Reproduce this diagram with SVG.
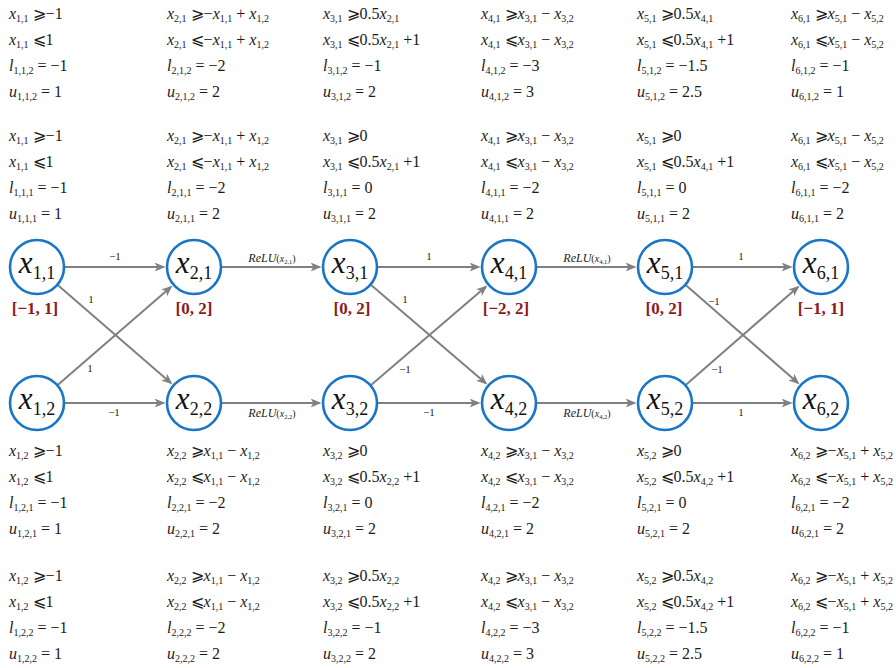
<svg xmlns="http://www.w3.org/2000/svg" width="896" height="668" viewBox="0 0 896 668">
<defs>
<style>
.t,.nl,.iv,.el,.rl{font-family:"Liberation Serif","Times New Roman",Times,"DejaVu Serif",serif}
.t{font-size:16px;fill:#1a1a1a}
.i{font-style:italic}
.b{font-size:10px}
.node circle{fill:#fff;stroke:#1976c6;stroke-width:2.6}
.nl{font-size:31px;fill:#111;text-anchor:middle}
.ns{font-size:18px;font-style:normal}
.iv{font-size:17px;font-weight:bold;fill:#8c1c1c;text-anchor:middle}
.edge{stroke:#808080;stroke-width:2;fill:none;marker-end:url(#arr)}
.el{font-size:11px;fill:#222;text-anchor:middle}
.rl{font-size:12px;fill:#222;text-anchor:middle}
.rp{font-size:10px}
.rs{font-size:6.5px}
</style>
<marker id="arr" markerUnits="userSpaceOnUse" markerWidth="14" markerHeight="10" refX="9" refY="4.5" orient="auto">
<path d="M0,0 L11,4.5 L0,9 L3,4.5 z" fill="#808080"/>
</marker>
</defs>
<rect width="896" height="668" fill="#fff"/>

<!-- connectors -->
<g id="connectors">
<line class="edge" x1="64" y1="267" x2="163.5" y2="267"/>
<line class="edge" x1="64" y1="403" x2="163.5" y2="403"/>
<line class="edge" x1="57.4" y1="284.7" x2="170.9" y2="383"/>
<line class="edge" x1="57.4" y1="385.3" x2="170.9" y2="287"/>
<line class="edge" x1="221" y1="267" x2="319.5" y2="267"/>
<line class="edge" x1="221" y1="403" x2="319.5" y2="403"/>
<line class="edge" x1="377" y1="267" x2="478.5" y2="267"/>
<line class="edge" x1="377" y1="403" x2="478.5" y2="403"/>
<line class="edge" x1="370.5" y1="284.6" x2="485.8" y2="383.2"/>
<line class="edge" x1="370.5" y1="385.4" x2="485.8" y2="286.8"/>
<line class="edge" x1="536" y1="267" x2="634.5" y2="267"/>
<line class="edge" x1="536" y1="403" x2="634.5" y2="403"/>
<line class="edge" x1="692" y1="267" x2="790.5" y2="267"/>
<line class="edge" x1="692" y1="403" x2="790.5" y2="403"/>
<line class="edge" x1="685.4" y1="284.7" x2="798" y2="383"/>
<line class="edge" x1="685.4" y1="385.3" x2="798" y2="287"/>

<text class="el" x="115" y="260">−1</text>
<text class="el" x="114" y="416">−1</text>
<text class="el" x="91" y="303">1</text>
<text class="el" x="90" y="372">1</text>
<text class="rl" x="272" y="262"><tspan class="i">ReLU</tspan><tspan class="rp">(</tspan><tspan class="rp i">x</tspan><tspan class="rs" dy="1.5">2,1</tspan><tspan class="rp" dy="-1.5">)</tspan></text>
<text class="rl" x="272" y="417"><tspan class="i">ReLU</tspan><tspan class="rp">(</tspan><tspan class="rp i">x</tspan><tspan class="rs" dy="1.5">2,2</tspan><tspan class="rp" dy="-1.5">)</tspan></text>
<text class="el" x="429" y="260">1</text>
<text class="el" x="429" y="416">−1</text>
<text class="el" x="405" y="303">1</text>
<text class="el" x="405" y="373">−1</text>
<text class="rl" x="587" y="262"><tspan class="i">ReLU</tspan><tspan class="rp">(</tspan><tspan class="rp i">x</tspan><tspan class="rs" dy="1.5">4,1</tspan><tspan class="rp" dy="-1.5">)</tspan></text>
<text class="rl" x="587" y="417"><tspan class="i">ReLU</tspan><tspan class="rp">(</tspan><tspan class="rp i">x</tspan><tspan class="rs" dy="1.5">4,2</tspan><tspan class="rp" dy="-1.5">)</tspan></text>
<text class="el" x="741" y="260">1</text>
<text class="el" x="741" y="416">1</text>
<text class="el" x="714" y="305">−1</text>
<text class="el" x="717" y="373">−1</text>
</g>

<!-- nodes -->
<g id="n11" class="node"><circle cx="37" cy="267" r="27"/><text class="nl" x="37" y="273"><tspan class="i">x</tspan><tspan class="ns" dy="6">1,1</tspan></text><text class="iv" x="35" y="314">[−1, 1]</text></g>
<g id="n12" class="node"><circle cx="37" cy="403" r="27"/><text class="nl" x="37" y="409"><tspan class="i">x</tspan><tspan class="ns" dy="6">1,2</tspan></text></g>
<g id="n21" class="node"><circle cx="194" cy="267" r="27"/><text class="nl" x="194" y="273"><tspan class="i">x</tspan><tspan class="ns" dy="6">2,1</tspan></text><text class="iv" x="194" y="314">[0, 2]</text></g>
<g id="n22" class="node"><circle cx="194" cy="403" r="27"/><text class="nl" x="194" y="409"><tspan class="i">x</tspan><tspan class="ns" dy="6">2,2</tspan></text></g>
<g id="n31" class="node"><circle cx="350" cy="267" r="27"/><text class="nl" x="350" y="273"><tspan class="i">x</tspan><tspan class="ns" dy="6">3,1</tspan></text><text class="iv" x="352" y="314">[0, 2]</text></g>
<g id="n32" class="node"><circle cx="350" cy="403" r="27"/><text class="nl" x="350" y="409"><tspan class="i">x</tspan><tspan class="ns" dy="6">3,2</tspan></text></g>
<g id="n41" class="node"><circle cx="509" cy="267" r="27"/><text class="nl" x="509" y="273"><tspan class="i">x</tspan><tspan class="ns" dy="6">4,1</tspan></text><text class="iv" x="506" y="314">[−2, 2]</text></g>
<g id="n42" class="node"><circle cx="509" cy="403" r="27"/><text class="nl" x="509" y="409"><tspan class="i">x</tspan><tspan class="ns" dy="6">4,2</tspan></text></g>
<g id="n51" class="node"><circle cx="665" cy="267" r="27"/><text class="nl" x="665" y="273"><tspan class="i">x</tspan><tspan class="ns" dy="6">5,1</tspan></text><text class="iv" x="664" y="314">[0, 2]</text></g>
<g id="n52" class="node"><circle cx="665" cy="403" r="27"/><text class="nl" x="665" y="409"><tspan class="i">x</tspan><tspan class="ns" dy="6">5,2</tspan></text></g>
<g id="n61" class="node"><circle cx="821" cy="267" r="27"/><text class="nl" x="821" y="273"><tspan class="i">x</tspan><tspan class="ns" dy="6">6,1</tspan></text><text class="iv" x="821" y="314">[−1, 1]</text></g>
<g id="n62" class="node"><circle cx="821" cy="403" r="27"/><text class="nl" x="821" y="409"><tspan class="i">x</tspan><tspan class="ns" dy="6">6,2</tspan></text></g>

<!-- bounds, upper neurons, split 2 -->
<g id="upper-split2" class="t">
<text x="9" y="19"><tspan class="i">x</tspan><tspan class="b" dy="3">1,1</tspan><tspan dy="-3"> ⩾−1</tspan></text>
<text x="9" y="45"><tspan class="i">x</tspan><tspan class="b" dy="3">1,1</tspan><tspan dy="-3"> ⩽1</tspan></text>
<text x="9" y="71"><tspan class="i">l</tspan><tspan class="b" dy="3">1,1,2</tspan><tspan dy="-3"> = −1</tspan></text>
<text x="9" y="97"><tspan class="i">u</tspan><tspan class="b" dy="3">1,1,2</tspan><tspan dy="-3"> = 1</tspan></text>

<text x="167" y="19"><tspan class="i">x</tspan><tspan class="b" dy="3">2,1</tspan><tspan dy="-3"> ⩾−</tspan><tspan class="i">x</tspan><tspan class="b" dy="3">1,1</tspan><tspan dy="-3"> + </tspan><tspan class="i">x</tspan><tspan class="b" dy="3">1,2</tspan></text>
<text x="167" y="45"><tspan class="i">x</tspan><tspan class="b" dy="3">2,1</tspan><tspan dy="-3"> ⩽−</tspan><tspan class="i">x</tspan><tspan class="b" dy="3">1,1</tspan><tspan dy="-3"> + </tspan><tspan class="i">x</tspan><tspan class="b" dy="3">1,2</tspan></text>
<text x="167" y="71"><tspan class="i">l</tspan><tspan class="b" dy="3">2,1,2</tspan><tspan dy="-3"> = −2</tspan></text>
<text x="167" y="97"><tspan class="i">u</tspan><tspan class="b" dy="3">2,1,2</tspan><tspan dy="-3"> = 2</tspan></text>

<text x="323" y="19"><tspan class="i">x</tspan><tspan class="b" dy="3">3,1</tspan><tspan dy="-3"> ⩾0.5</tspan><tspan class="i">x</tspan><tspan class="b" dy="3">2,1</tspan></text>
<text x="323" y="45"><tspan class="i">x</tspan><tspan class="b" dy="3">3,1</tspan><tspan dy="-3"> ⩽0.5</tspan><tspan class="i">x</tspan><tspan class="b" dy="3">2,1</tspan><tspan dy="-3"> +1</tspan></text>
<text x="323" y="71"><tspan class="i">l</tspan><tspan class="b" dy="3">3,1,2</tspan><tspan dy="-3"> = −1</tspan></text>
<text x="323" y="97"><tspan class="i">u</tspan><tspan class="b" dy="3">3,1,2</tspan><tspan dy="-3"> = 2</tspan></text>

<text x="481" y="19"><tspan class="i">x</tspan><tspan class="b" dy="3">4,1</tspan><tspan dy="-3"> ⩾</tspan><tspan class="i">x</tspan><tspan class="b" dy="3">3,1</tspan><tspan dy="-3"> − </tspan><tspan class="i">x</tspan><tspan class="b" dy="3">3,2</tspan></text>
<text x="481" y="45"><tspan class="i">x</tspan><tspan class="b" dy="3">4,1</tspan><tspan dy="-3"> ⩽</tspan><tspan class="i">x</tspan><tspan class="b" dy="3">3,1</tspan><tspan dy="-3"> − </tspan><tspan class="i">x</tspan><tspan class="b" dy="3">3,2</tspan></text>
<text x="481" y="71"><tspan class="i">l</tspan><tspan class="b" dy="3">4,1,2</tspan><tspan dy="-3"> = −3</tspan></text>
<text x="481" y="97"><tspan class="i">u</tspan><tspan class="b" dy="3">4,1,2</tspan><tspan dy="-3"> = 3</tspan></text>

<text x="637" y="19"><tspan class="i">x</tspan><tspan class="b" dy="3">5,1</tspan><tspan dy="-3"> ⩾0.5</tspan><tspan class="i">x</tspan><tspan class="b" dy="3">4,1</tspan></text>
<text x="637" y="45"><tspan class="i">x</tspan><tspan class="b" dy="3">5,1</tspan><tspan dy="-3"> ⩽0.5</tspan><tspan class="i">x</tspan><tspan class="b" dy="3">4,1</tspan><tspan dy="-3"> +1</tspan></text>
<text x="637" y="71"><tspan class="i">l</tspan><tspan class="b" dy="3">5,1,2</tspan><tspan dy="-3"> = −1.5</tspan></text>
<text x="637" y="97"><tspan class="i">u</tspan><tspan class="b" dy="3">5,1,2</tspan><tspan dy="-3"> = 2.5</tspan></text>

<text x="791" y="19"><tspan class="i">x</tspan><tspan class="b" dy="3">6,1</tspan><tspan dy="-3"> ⩾</tspan><tspan class="i">x</tspan><tspan class="b" dy="3">5,1</tspan><tspan dy="-3"> − </tspan><tspan class="i">x</tspan><tspan class="b" dy="3">5,2</tspan></text>
<text x="791" y="45"><tspan class="i">x</tspan><tspan class="b" dy="3">6,1</tspan><tspan dy="-3"> ⩽</tspan><tspan class="i">x</tspan><tspan class="b" dy="3">5,1</tspan><tspan dy="-3"> − </tspan><tspan class="i">x</tspan><tspan class="b" dy="3">5,2</tspan></text>
<text x="791" y="71"><tspan class="i">l</tspan><tspan class="b" dy="3">6,1,2</tspan><tspan dy="-3"> = −1</tspan></text>
<text x="791" y="97"><tspan class="i">u</tspan><tspan class="b" dy="3">6,1,2</tspan><tspan dy="-3"> = 1</tspan></text>
</g>

<!-- bounds, upper neurons, split 1 -->
<g id="upper-split1" class="t">
<text x="9" y="141"><tspan class="i">x</tspan><tspan class="b" dy="3">1,1</tspan><tspan dy="-3"> ⩾−1</tspan></text>
<text x="9" y="167"><tspan class="i">x</tspan><tspan class="b" dy="3">1,1</tspan><tspan dy="-3"> ⩽1</tspan></text>
<text x="9" y="193"><tspan class="i">l</tspan><tspan class="b" dy="3">1,1,1</tspan><tspan dy="-3"> = −1</tspan></text>
<text x="9" y="219"><tspan class="i">u</tspan><tspan class="b" dy="3">1,1,1</tspan><tspan dy="-3"> = 1</tspan></text>

<text x="167" y="141"><tspan class="i">x</tspan><tspan class="b" dy="3">2,1</tspan><tspan dy="-3"> ⩾−</tspan><tspan class="i">x</tspan><tspan class="b" dy="3">1,1</tspan><tspan dy="-3"> + </tspan><tspan class="i">x</tspan><tspan class="b" dy="3">1,2</tspan></text>
<text x="167" y="167"><tspan class="i">x</tspan><tspan class="b" dy="3">2,1</tspan><tspan dy="-3"> ⩽−</tspan><tspan class="i">x</tspan><tspan class="b" dy="3">1,1</tspan><tspan dy="-3"> + </tspan><tspan class="i">x</tspan><tspan class="b" dy="3">1,2</tspan></text>
<text x="167" y="193"><tspan class="i">l</tspan><tspan class="b" dy="3">2,1,1</tspan><tspan dy="-3"> = −2</tspan></text>
<text x="167" y="219"><tspan class="i">u</tspan><tspan class="b" dy="3">2,1,1</tspan><tspan dy="-3"> = 2</tspan></text>

<text x="323" y="141"><tspan class="i">x</tspan><tspan class="b" dy="3">3,1</tspan><tspan dy="-3"> ⩾0</tspan></text>
<text x="323" y="167"><tspan class="i">x</tspan><tspan class="b" dy="3">3,1</tspan><tspan dy="-3"> ⩽0.5</tspan><tspan class="i">x</tspan><tspan class="b" dy="3">2,1</tspan><tspan dy="-3"> +1</tspan></text>
<text x="323" y="193"><tspan class="i">l</tspan><tspan class="b" dy="3">3,1,1</tspan><tspan dy="-3"> = 0</tspan></text>
<text x="323" y="219"><tspan class="i">u</tspan><tspan class="b" dy="3">3,1,1</tspan><tspan dy="-3"> = 2</tspan></text>

<text x="481" y="141"><tspan class="i">x</tspan><tspan class="b" dy="3">4,1</tspan><tspan dy="-3"> ⩾</tspan><tspan class="i">x</tspan><tspan class="b" dy="3">3,1</tspan><tspan dy="-3"> − </tspan><tspan class="i">x</tspan><tspan class="b" dy="3">3,2</tspan></text>
<text x="481" y="167"><tspan class="i">x</tspan><tspan class="b" dy="3">4,1</tspan><tspan dy="-3"> ⩽</tspan><tspan class="i">x</tspan><tspan class="b" dy="3">3,1</tspan><tspan dy="-3"> − </tspan><tspan class="i">x</tspan><tspan class="b" dy="3">3,2</tspan></text>
<text x="481" y="193"><tspan class="i">l</tspan><tspan class="b" dy="3">4,1,1</tspan><tspan dy="-3"> = −2</tspan></text>
<text x="481" y="219"><tspan class="i">u</tspan><tspan class="b" dy="3">4,1,1</tspan><tspan dy="-3"> = 2</tspan></text>

<text x="637" y="141"><tspan class="i">x</tspan><tspan class="b" dy="3">5,1</tspan><tspan dy="-3"> ⩾0</tspan></text>
<text x="637" y="167"><tspan class="i">x</tspan><tspan class="b" dy="3">5,1</tspan><tspan dy="-3"> ⩽0.5</tspan><tspan class="i">x</tspan><tspan class="b" dy="3">4,1</tspan><tspan dy="-3"> +1</tspan></text>
<text x="637" y="193"><tspan class="i">l</tspan><tspan class="b" dy="3">5,1,1</tspan><tspan dy="-3"> = 0</tspan></text>
<text x="637" y="219"><tspan class="i">u</tspan><tspan class="b" dy="3">5,1,1</tspan><tspan dy="-3"> = 2</tspan></text>

<text x="791" y="141"><tspan class="i">x</tspan><tspan class="b" dy="3">6,1</tspan><tspan dy="-3"> ⩾</tspan><tspan class="i">x</tspan><tspan class="b" dy="3">5,1</tspan><tspan dy="-3"> − </tspan><tspan class="i">x</tspan><tspan class="b" dy="3">5,2</tspan></text>
<text x="791" y="167"><tspan class="i">x</tspan><tspan class="b" dy="3">6,1</tspan><tspan dy="-3"> ⩽</tspan><tspan class="i">x</tspan><tspan class="b" dy="3">5,1</tspan><tspan dy="-3"> − </tspan><tspan class="i">x</tspan><tspan class="b" dy="3">5,2</tspan></text>
<text x="791" y="193"><tspan class="i">l</tspan><tspan class="b" dy="3">6,1,1</tspan><tspan dy="-3"> = −2</tspan></text>
<text x="791" y="219"><tspan class="i">u</tspan><tspan class="b" dy="3">6,1,1</tspan><tspan dy="-3"> = 2</tspan></text>
</g>

<!-- bounds, lower neurons, split 1 -->
<g id="lower-split1" class="t">
<text x="9" y="456"><tspan class="i">x</tspan><tspan class="b" dy="3">1,2</tspan><tspan dy="-3"> ⩾−1</tspan></text>
<text x="9" y="482"><tspan class="i">x</tspan><tspan class="b" dy="3">1,2</tspan><tspan dy="-3"> ⩽1</tspan></text>
<text x="9" y="508"><tspan class="i">l</tspan><tspan class="b" dy="3">1,2,1</tspan><tspan dy="-3"> = −1</tspan></text>
<text x="9" y="534"><tspan class="i">u</tspan><tspan class="b" dy="3">1,2,1</tspan><tspan dy="-3"> = 1</tspan></text>

<text x="167" y="456"><tspan class="i">x</tspan><tspan class="b" dy="3">2,2</tspan><tspan dy="-3"> ⩾</tspan><tspan class="i">x</tspan><tspan class="b" dy="3">1,1</tspan><tspan dy="-3"> − </tspan><tspan class="i">x</tspan><tspan class="b" dy="3">1,2</tspan></text>
<text x="167" y="482"><tspan class="i">x</tspan><tspan class="b" dy="3">2,2</tspan><tspan dy="-3"> ⩽</tspan><tspan class="i">x</tspan><tspan class="b" dy="3">1,1</tspan><tspan dy="-3"> − </tspan><tspan class="i">x</tspan><tspan class="b" dy="3">1,2</tspan></text>
<text x="167" y="508"><tspan class="i">l</tspan><tspan class="b" dy="3">2,2,1</tspan><tspan dy="-3"> = −2</tspan></text>
<text x="167" y="534"><tspan class="i">u</tspan><tspan class="b" dy="3">2,2,1</tspan><tspan dy="-3"> = 2</tspan></text>

<text x="323" y="456"><tspan class="i">x</tspan><tspan class="b" dy="3">3,2</tspan><tspan dy="-3"> ⩾0</tspan></text>
<text x="323" y="482"><tspan class="i">x</tspan><tspan class="b" dy="3">3,2</tspan><tspan dy="-3"> ⩽0.5</tspan><tspan class="i">x</tspan><tspan class="b" dy="3">2,2</tspan><tspan dy="-3"> +1</tspan></text>
<text x="323" y="508"><tspan class="i">l</tspan><tspan class="b" dy="3">3,2,1</tspan><tspan dy="-3"> = 0</tspan></text>
<text x="323" y="534"><tspan class="i">u</tspan><tspan class="b" dy="3">3,2,1</tspan><tspan dy="-3"> = 2</tspan></text>

<text x="481" y="456"><tspan class="i">x</tspan><tspan class="b" dy="3">4,2</tspan><tspan dy="-3"> ⩾</tspan><tspan class="i">x</tspan><tspan class="b" dy="3">3,1</tspan><tspan dy="-3"> − </tspan><tspan class="i">x</tspan><tspan class="b" dy="3">3,2</tspan></text>
<text x="481" y="482"><tspan class="i">x</tspan><tspan class="b" dy="3">4,2</tspan><tspan dy="-3"> ⩽</tspan><tspan class="i">x</tspan><tspan class="b" dy="3">3,1</tspan><tspan dy="-3"> − </tspan><tspan class="i">x</tspan><tspan class="b" dy="3">3,2</tspan></text>
<text x="481" y="508"><tspan class="i">l</tspan><tspan class="b" dy="3">4,2,1</tspan><tspan dy="-3"> = −2</tspan></text>
<text x="481" y="534"><tspan class="i">u</tspan><tspan class="b" dy="3">4,2,1</tspan><tspan dy="-3"> = 2</tspan></text>

<text x="637" y="456"><tspan class="i">x</tspan><tspan class="b" dy="3">5,2</tspan><tspan dy="-3"> ⩾0</tspan></text>
<text x="637" y="482"><tspan class="i">x</tspan><tspan class="b" dy="3">5,2</tspan><tspan dy="-3"> ⩽0.5</tspan><tspan class="i">x</tspan><tspan class="b" dy="3">4,2</tspan><tspan dy="-3"> +1</tspan></text>
<text x="637" y="508"><tspan class="i">l</tspan><tspan class="b" dy="3">5,2,1</tspan><tspan dy="-3"> = 0</tspan></text>
<text x="637" y="534"><tspan class="i">u</tspan><tspan class="b" dy="3">5,2,1</tspan><tspan dy="-3"> = 2</tspan></text>

<text x="791" y="456"><tspan class="i">x</tspan><tspan class="b" dy="3">6,2</tspan><tspan dy="-3"> ⩾−</tspan><tspan class="i">x</tspan><tspan class="b" dy="3">5,1</tspan><tspan dy="-3"> + </tspan><tspan class="i">x</tspan><tspan class="b" dy="3">5,2</tspan></text>
<text x="791" y="482"><tspan class="i">x</tspan><tspan class="b" dy="3">6,2</tspan><tspan dy="-3"> ⩽−</tspan><tspan class="i">x</tspan><tspan class="b" dy="3">5,1</tspan><tspan dy="-3"> + </tspan><tspan class="i">x</tspan><tspan class="b" dy="3">5,2</tspan></text>
<text x="791" y="508"><tspan class="i">l</tspan><tspan class="b" dy="3">6,2,1</tspan><tspan dy="-3"> = −2</tspan></text>
<text x="791" y="534"><tspan class="i">u</tspan><tspan class="b" dy="3">6,2,1</tspan><tspan dy="-3"> = 2</tspan></text>
</g>

<!-- bounds, lower neurons, split 2 -->
<g id="lower-split2" class="t">
<text x="9" y="581"><tspan class="i">x</tspan><tspan class="b" dy="3">1,2</tspan><tspan dy="-3"> ⩾−1</tspan></text>
<text x="9" y="607"><tspan class="i">x</tspan><tspan class="b" dy="3">1,2</tspan><tspan dy="-3"> ⩽1</tspan></text>
<text x="9" y="633"><tspan class="i">l</tspan><tspan class="b" dy="3">1,2,2</tspan><tspan dy="-3"> = −1</tspan></text>
<text x="9" y="659"><tspan class="i">u</tspan><tspan class="b" dy="3">1,2,2</tspan><tspan dy="-3"> = 1</tspan></text>

<text x="167" y="581"><tspan class="i">x</tspan><tspan class="b" dy="3">2,2</tspan><tspan dy="-3"> ⩾</tspan><tspan class="i">x</tspan><tspan class="b" dy="3">1,1</tspan><tspan dy="-3"> − </tspan><tspan class="i">x</tspan><tspan class="b" dy="3">1,2</tspan></text>
<text x="167" y="607"><tspan class="i">x</tspan><tspan class="b" dy="3">2,2</tspan><tspan dy="-3"> ⩽</tspan><tspan class="i">x</tspan><tspan class="b" dy="3">1,1</tspan><tspan dy="-3"> − </tspan><tspan class="i">x</tspan><tspan class="b" dy="3">1,2</tspan></text>
<text x="167" y="633"><tspan class="i">l</tspan><tspan class="b" dy="3">2,2,2</tspan><tspan dy="-3"> = −2</tspan></text>
<text x="167" y="659"><tspan class="i">u</tspan><tspan class="b" dy="3">2,2,2</tspan><tspan dy="-3"> = 2</tspan></text>

<text x="323" y="581"><tspan class="i">x</tspan><tspan class="b" dy="3">3,2</tspan><tspan dy="-3"> ⩾0.5</tspan><tspan class="i">x</tspan><tspan class="b" dy="3">2,2</tspan></text>
<text x="323" y="607"><tspan class="i">x</tspan><tspan class="b" dy="3">3,2</tspan><tspan dy="-3"> ⩽0.5</tspan><tspan class="i">x</tspan><tspan class="b" dy="3">2,2</tspan><tspan dy="-3"> +1</tspan></text>
<text x="323" y="633"><tspan class="i">l</tspan><tspan class="b" dy="3">3,2,2</tspan><tspan dy="-3"> = −1</tspan></text>
<text x="323" y="659"><tspan class="i">u</tspan><tspan class="b" dy="3">3,2,2</tspan><tspan dy="-3"> = 2</tspan></text>

<text x="481" y="581"><tspan class="i">x</tspan><tspan class="b" dy="3">4,2</tspan><tspan dy="-3"> ⩾</tspan><tspan class="i">x</tspan><tspan class="b" dy="3">3,1</tspan><tspan dy="-3"> − </tspan><tspan class="i">x</tspan><tspan class="b" dy="3">3,2</tspan></text>
<text x="481" y="607"><tspan class="i">x</tspan><tspan class="b" dy="3">4,2</tspan><tspan dy="-3"> ⩽</tspan><tspan class="i">x</tspan><tspan class="b" dy="3">3,1</tspan><tspan dy="-3"> − </tspan><tspan class="i">x</tspan><tspan class="b" dy="3">3,2</tspan></text>
<text x="481" y="633"><tspan class="i">l</tspan><tspan class="b" dy="3">4,2,2</tspan><tspan dy="-3"> = −3</tspan></text>
<text x="481" y="659"><tspan class="i">u</tspan><tspan class="b" dy="3">4,2,2</tspan><tspan dy="-3"> = 3</tspan></text>

<text x="637" y="581"><tspan class="i">x</tspan><tspan class="b" dy="3">5,2</tspan><tspan dy="-3"> ⩾0.5</tspan><tspan class="i">x</tspan><tspan class="b" dy="3">4,2</tspan></text>
<text x="637" y="607"><tspan class="i">x</tspan><tspan class="b" dy="3">5,2</tspan><tspan dy="-3"> ⩽0.5</tspan><tspan class="i">x</tspan><tspan class="b" dy="3">4,2</tspan><tspan dy="-3"> +1</tspan></text>
<text x="637" y="633"><tspan class="i">l</tspan><tspan class="b" dy="3">5,2,2</tspan><tspan dy="-3"> = −1.5</tspan></text>
<text x="637" y="659"><tspan class="i">u</tspan><tspan class="b" dy="3">5,2,2</tspan><tspan dy="-3"> = 2.5</tspan></text>

<text x="791" y="581"><tspan class="i">x</tspan><tspan class="b" dy="3">6,2</tspan><tspan dy="-3"> ⩾−</tspan><tspan class="i">x</tspan><tspan class="b" dy="3">5,1</tspan><tspan dy="-3"> + </tspan><tspan class="i">x</tspan><tspan class="b" dy="3">5,2</tspan></text>
<text x="791" y="607"><tspan class="i">x</tspan><tspan class="b" dy="3">6,2</tspan><tspan dy="-3"> ⩽−</tspan><tspan class="i">x</tspan><tspan class="b" dy="3">5,1</tspan><tspan dy="-3"> + </tspan><tspan class="i">x</tspan><tspan class="b" dy="3">5,2</tspan></text>
<text x="791" y="633"><tspan class="i">l</tspan><tspan class="b" dy="3">6,2,2</tspan><tspan dy="-3"> = −1</tspan></text>
<text x="791" y="659"><tspan class="i">u</tspan><tspan class="b" dy="3">6,2,2</tspan><tspan dy="-3"> = 1</tspan></text>
</g>
</svg>
